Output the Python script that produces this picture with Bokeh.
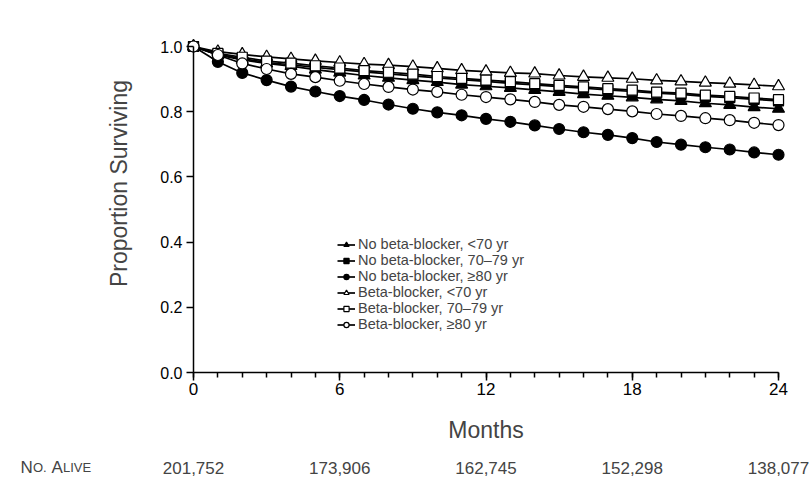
import math
from bokeh.plotting import figure
from bokeh.models import Range1d, FixedTicker, Legend, LegendItem, Label, PrintfTickFormatter
from bokeh.embed import file_html
from bokeh.resources import INLINE

months = list(range(25))
nobb_lt70 = [1.0, 0.974, 0.959, 0.948, 0.940, 0.929, 0.920, 0.911, 0.904, 0.897, 0.891, 0.883, 0.878, 0.873, 0.867,
             0.861, 0.854, 0.849, 0.844, 0.838, 0.833, 0.826, 0.821, 0.814, 0.809]
nobb_7079 = [1.0, 0.976, 0.963, 0.951, 0.944, 0.936, 0.929, 0.922, 0.916, 0.910, 0.904, 0.898, 0.893, 0.887, 0.882,
             0.877, 0.872, 0.867, 0.862, 0.857, 0.853, 0.847, 0.843, 0.838, 0.833]
nobb_80 = [1.0, 0.953, 0.919, 0.897, 0.877, 0.862, 0.848, 0.836, 0.822, 0.809, 0.798, 0.789, 0.778, 0.769, 0.758,
           0.747, 0.737, 0.729, 0.719, 0.707, 0.699, 0.691, 0.684, 0.675, 0.668]
bb_lt70 = [1.0, 0.984, 0.976, 0.968, 0.962, 0.956, 0.951, 0.946, 0.943, 0.938, 0.933, 0.927, 0.923, 0.919, 0.917,
           0.911, 0.907, 0.904, 0.901, 0.896, 0.893, 0.889, 0.886, 0.882, 0.878]
bb_7079 = [1.0, 0.979, 0.967, 0.955, 0.949, 0.941, 0.934, 0.926, 0.921, 0.915, 0.908, 0.902, 0.897, 0.892, 0.886,
           0.881, 0.876, 0.871, 0.866, 0.860, 0.857, 0.851, 0.847, 0.842, 0.837]
bb_80 = [1.0, 0.974, 0.948, 0.931, 0.916, 0.906, 0.895, 0.885, 0.876, 0.868, 0.861, 0.852, 0.845, 0.838, 0.830,
         0.821, 0.815, 0.808, 0.801, 0.793, 0.787, 0.780, 0.774, 0.766, 0.759]

labels = ["No beta-blocker, <70 yr", "No beta-blocker, 70\u201379 yr", "No beta-blocker, \u226580 yr",
          "Beta-blocker, <70 yr", "Beta-blocker, 70\u201379 yr", "Beta-blocker, \u226580 yr"]
series = [nobb_lt70, nobb_7079, nobb_80, bb_lt70, bb_7079, bb_80]
markers = ["triangle", "square", "circle", "triangle", "square", "circle"]
fills = ["black", "black", "black", "white", "white", "white"]
sizes = [12, 10, 11, 12, 10, 11]

at_risk_months = [0, 6, 12, 18, 24]
at_risk = ["201,752", "173,906", "162,745", "152,298", "138,077"]
x_ticks = [0, 6, 12, 18, 24]
y_ticks = [0.0, 0.2, 0.4, 0.6, 0.8, 1.0]

FONT = "Liberation Sans"
W, H = 809, 478
X0, X24 = 193.0, 778.0      # canvas px of month 0 / month 24
Y1, Y0 = 46.0, 372.0        # canvas px of 1.0 / 0.0
pxm = (X24 - X0) / 24.0
pxu = (Y0 - Y1)


def dx(px):
    return (px - X0) / pxm


def dy(py):
    return (Y0 - py) / pxu


p = figure(width=W, height=H, output_backend="svg", toolbar_location=None,
           x_range=Range1d(dx(0), dx(W)), y_range=Range1d(dy(H), dy(0)),
           min_border_left=0, min_border_right=0, min_border_top=0, min_border_bottom=0)
p.outline_line_color = None
p.grid.visible = False
p.background_fill_color = "white"

xa = p.xaxis[0]
xa.ticker = FixedTicker(ticks=x_ticks, minor_ticks=months)
xa.bounds = (0, 24)
xa.fixed_location = 0
xa.axis_line_width = 1.5
xa.major_tick_line_width = 1.5
xa.minor_tick_line_width = 1.5
xa.major_tick_out = 8
xa.major_tick_in = 0
xa.minor_tick_out = 5
xa.minor_tick_in = 0
xa.major_label_standoff = 2
xa.major_label_text_font = FONT
xa.major_label_text_font_size = "17px"
xa.major_label_text_color = "black"
xa.axis_label = "Months"
xa.axis_label_text_font = FONT
xa.axis_label_text_font_size = "23px"
xa.axis_label_text_font_style = "normal"
xa.axis_label_standoff = 19

ya = p.yaxis[0]
ya.ticker = FixedTicker(ticks=y_ticks, minor_ticks=[])
ya.formatter = PrintfTickFormatter(format="%.1f")
ya.bounds = (0, 1)
ya.fixed_location = 0
ya.axis_line_width = 1.5
ya.major_tick_line_width = 1.5
ya.major_tick_out = 7
ya.major_tick_in = 0
ya.minor_tick_out = 0
ya.minor_tick_in = 0
ya.major_label_standoff = 4
ya.major_label_text_font = FONT
ya.major_label_text_font_size = "16px"
ya.major_label_text_color = "black"

p.add_layout(Label(x=dx(118), y=dy(183), text="Proportion Surviving", angle=math.pi / 2,
                   text_align="center", text_baseline="middle", text_font=FONT, text_font_size="23px"))

items = []
for lab, ys, mk, fc, sz in zip(labels, series, markers, fills, sizes):
    lr = p.line(months, ys, line_color="black", line_width=1.7)
    sr = p.scatter(months, ys, marker=mk, size=sz, fill_color=fc, line_color="black", line_width=1.2)
    items.append(LegendItem(label=lab, renderers=[lr, sr]))

legend = Legend(items=items, location=(337, 146), label_text_font=FONT, label_text_font_size="14.5px",
                glyph_width=18, glyph_height=13, label_height=13, spacing=0, padding=0, margin=0,
                label_standoff=3, border_line_color=None, background_fill_alpha=0)
p.add_layout(legend)

ROW_BASE = 467  # canvas px of the baseline of the "No. Alive" row
for m, t in zip(at_risk_months, at_risk):
    p.add_layout(Label(x=m, y=dy(ROW_BASE), text=t, text_align="center",
                       text_baseline="alphabetic", text_font=FONT, text_font_size="17px"))

# "No. Alive" in small capitals
parts = [("N", "17px", 0), ("O.", "13px", 12.5), ("A", "17px", 31), ("LIVE", "13px", 42.5)]
for txt, fs, off in parts:
    p.add_layout(Label(x=dx(20 + off), y=dy(ROW_BASE), text=txt,
                       text_align="left", text_baseline="alphabetic", text_font=FONT, text_font_size=fs))

open("out.html", "w").write(file_html(p, INLINE))
